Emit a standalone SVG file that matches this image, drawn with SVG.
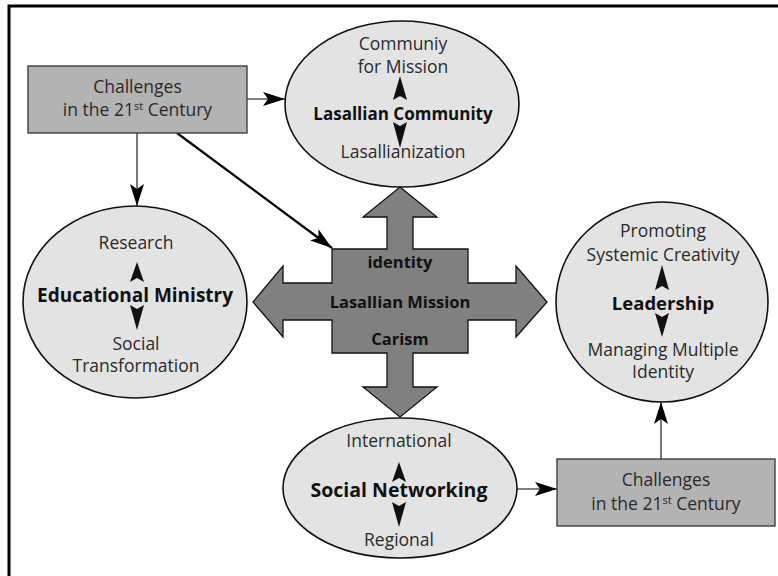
<svg xmlns="http://www.w3.org/2000/svg" width="778" height="576" viewBox="0 0 778 576">
<defs>
<style>
.ell{fill:#e3e3e3;stroke:#111;stroke-width:1.6}
.box{fill:#b3b3b3;stroke:#333;stroke-width:1.3}
.cross{fill:#808080;stroke:#111;stroke-width:1.3}
.t{font-family:"Open Sans","DejaVu Sans",sans-serif;font-size:17.5px;fill:#2a2a2a;text-anchor:middle}
.b{font-family:"Open Sans","DejaVu Sans",sans-serif;font-weight:bold;font-size:17px;fill:#111;text-anchor:middle}
.sup{font-size:11px}
.con{stroke:#555;stroke-width:1.6;fill:none}
.dia{stroke:#000;stroke-width:2.2;fill:none}
.head{fill:#111}
</style>
<marker id="ah" markerUnits="userSpaceOnUse" markerWidth="24" markerHeight="16" refX="22" refY="7" orient="auto">
<path d="M0,0 L22,7 L0,14 L5,7 Z" fill="#000"/>
</marker>
</defs>
<rect width="778" height="576" fill="#fff"/>
<g id="frame">
<path d="M9,576 L9,6 L778,6" fill="none" stroke="#000" stroke-width="3"/>
</g>
<g id="connectors">
<line class="con" x1="247" y1="99" x2="285" y2="99" marker-end="url(#ah)"/>
<line class="con" x1="137" y1="133" x2="137" y2="206" marker-end="url(#ah)"/>
<line class="dia" x1="177" y1="133" x2="332" y2="248" marker-end="url(#ah)"/>
<line class="con" x1="517" y1="489" x2="557" y2="489" marker-end="url(#ah)"/>
<line class="con" x1="661" y1="459" x2="661" y2="402" marker-end="url(#ah)"/>
</g>
<g id="challenges-top">
<rect class="box" x="28" y="66" width="219" height="67"/>
<text class="t" x="137.5" y="93">Challenges</text>
<text class="t" x="137.5" y="116">in the 21<tspan class="sup" dy="-6">st</tspan><tspan dy="6"> Century</tspan></text>
</g>
<g id="lasallian-community">
<ellipse class="ell" cx="402" cy="104" rx="117" ry="83"/>
<text class="t" x="403" y="50">Communiy</text>
<text class="t" x="403" y="73">for Mission</text>
<path class="head" d="M400,76 L407,100 L400,96 L393,100 Z"/>
<text class="b" x="403" y="120">Lasallian Community</text>
<path class="head" d="M400,148 L407,122 L400,126 L393,122 Z"/>
<text class="t" x="403" y="158">Lasallianization</text>
</g>
<g id="educational-ministry">
<ellipse class="ell" cx="135" cy="302" rx="112" ry="96"/>
<text class="t" x="136" y="249">Research</text>
<path class="head" d="M137,262 L144,282 L137,278 L130,282 Z"/>
<text class="b" x="135" y="302" style="font-size:19px">Educational Ministry</text>
<path class="head" d="M137,330 L144,305 L137,309 L130,305 Z"/>
<text class="t" x="136" y="350">Social</text>
<text class="t" x="136" y="372">Transformation</text>
</g>
<g id="lasallian-mission">
<polygon class="cross" points="400,187 437,217 413,217 413,249 468,249 468,283 516,283 516,266 547,302 516,337 516,320 468,320 468,353 413,353 413,387 437,387 400,417 363,387 387,387 387,353 332,353 332,320 283,320 283,337 253,302 283,266 283,283 332,283 332,249 387,249 387,217 363,217"/>
<text class="b" x="400" y="268" style="font-size:16.5px">identity</text>
<text class="b" x="400" y="308" style="font-size:16.5px">Lasallian Mission</text>
<text class="b" x="400" y="345" style="font-size:16.5px">Carism</text>
</g>
<g id="leadership">
<ellipse class="ell" cx="662" cy="302" rx="106" ry="100"/>
<text class="t" x="663" y="237">Promoting</text>
<text class="t" x="663" y="261">Systemic Creativity</text>
<path class="head" d="M662,265 L669,290 L662,286 L655,290 Z"/>
<text class="b" x="663" y="310" style="font-size:18.5px">Leadership</text>
<path class="head" d="M662,337 L669,313 L662,317 L655,313 Z"/>
<text class="t" x="663" y="356">Managing Multiple</text>
<text class="t" x="663" y="378">Identity</text>
</g>
<g id="social-networking">
<ellipse class="ell" cx="400" cy="488" rx="117" ry="70"/>
<text class="t" x="399" y="447">International</text>
<path class="head" d="M399,462 L406,482 L399,478 L392,482 Z"/>
<text class="b" x="399" y="497" style="font-size:19.5px">Social Networking</text>
<path class="head" d="M399,527 L406,502 L399,506 L392,502 Z"/>
<text class="t" x="399" y="546">Regional</text>
</g>
<g id="challenges-bottom">
<rect class="box" x="557" y="459" width="218" height="67"/>
<text class="t" x="666" y="486">Challenges</text>
<text class="t" x="666" y="510">in the 21<tspan class="sup" dy="-6">st</tspan><tspan dy="6"> Century</tspan></text>
</g>
</svg>
